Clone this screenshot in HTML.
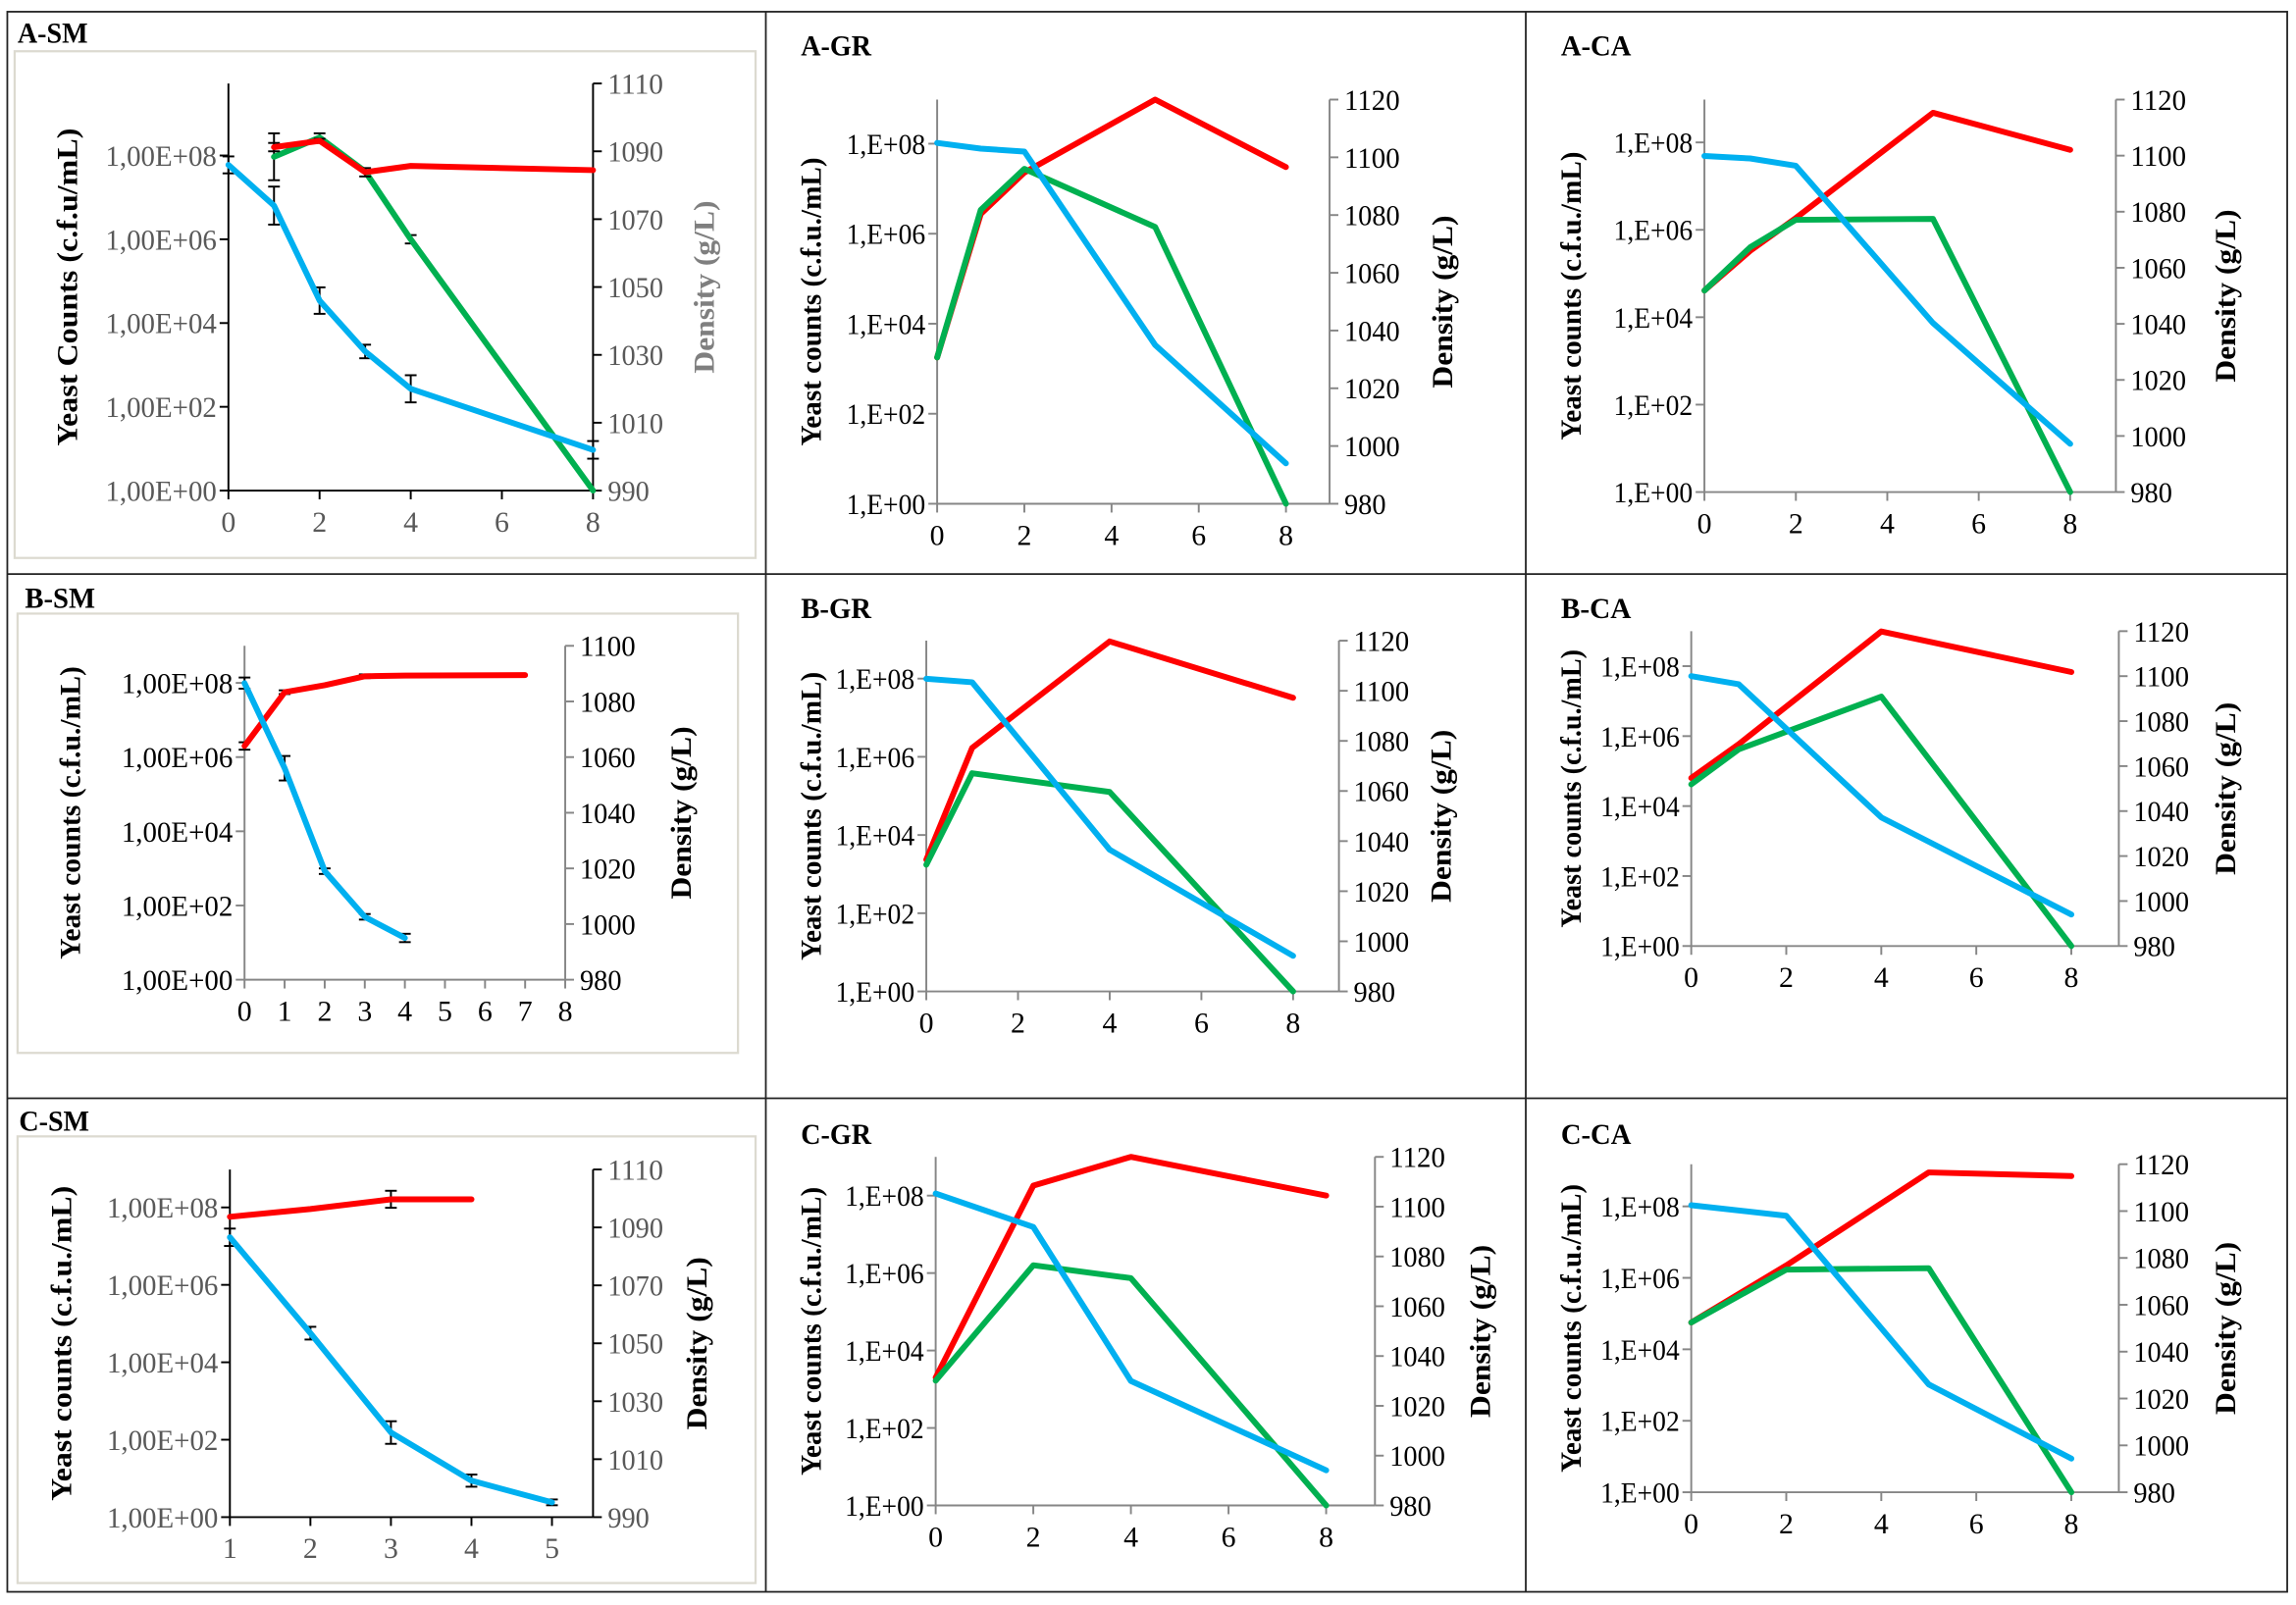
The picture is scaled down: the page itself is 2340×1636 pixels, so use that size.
<!DOCTYPE html>
<html><head><meta charset="utf-8"><style>
html,body{margin:0;padding:0;background:#fff}
svg{display:block}
</style></head><body>
<svg id="chart" xmlns="http://www.w3.org/2000/svg" width="2340" height="1636" viewBox="0 0 1568 1096" preserveAspectRatio="none">
<rect x="0" y="0" width="1568" height="1096" fill="#fff"/>
<g fill="none" stroke="#222" stroke-width="1.2">
<rect x="5" y="8" width="1557" height="1079"/>
<line x1="5" y1="392" x2="1562" y2="392"/>
<line x1="5" y1="750" x2="1562" y2="750"/>
<line x1="523" y1="8" x2="523" y2="1087"/>
<line x1="1042" y1="8" x2="1042" y2="1087"/>
</g>
<g id="panels"></g>
</svg>
<script>
// ---- data (days, log10 yeast counts for red/green, density g/L for blue) ----
const aSmRedDays=[1,2,3,4,8];      const aSmRed=[8.2,8.35,7.6,7.75,7.65];      const aSmRedErr=[0.1,0.05,0.1,0,0];
const aSmGreenDays=[1,2,3,4,8];    const aSmGreen=[7.97,8.43,7.62,6.0,0];     const aSmGreenErr=[0.56,0.1,0,0.1,0];
const aSmBlueDays=[0,1,2,3,4,8];   const aSmBlue=[1086,1074,1046,1031,1020,1002]; const aSmBlueErr=[2.5,5.6,3.9,2,4,2.6];

const aGrRedDays=[0,1,2,5,8];      const aGrRed=[3.25,6.44,7.36,8.98,7.48];
const aGrGreenDays=[0,1,2,5,8];    const aGrGreen=[3.25,6.53,7.44,6.15,0];
const aGrBlueDays=[0,1,2,5,8];     const aGrBlue=[1105,1103,1102,1035,994];

const aCaRedDays=[0,1,2,5,8];      const aCaRed=[4.61,5.52,6.27,8.68,7.83];
const aCaGreenDays=[0,1,2,5,8];    const aCaGreen=[4.61,5.6,6.23,6.25,0];
const aCaBlueDays=[0,1,2,5,8];     const aCaBlue=[1099.9,1099,1096.4,1040.3,997.2];

const bSmRedDays=[0,1,2,3,4,7];    const bSmRed=[6.3,7.75,7.94,8.18,8.2,8.21]; const bSmRedErr=[0.1,0.05,0,0.05,0,0];
const bSmBlueDays=[0,1,2,3,4];     const bSmBlue=[1086.6,1056,1019,1002.6,995]; const bSmBlueErr=[2,4.4,1,1,1.5];

const bGrRedDays=[0,1,4,8];        const bGrRed=[3.37,6.23,8.95,7.51];
const bGrGreenDays=[0,1,4,8];      const bGrGreen=[3.24,5.58,5.1,0];
const bGrBlueDays=[0,1,4,8];       const bGrBlue=[1104.8,1103.4,1036.6,994.2];

const bCaRedDays=[0,1,4,8];        const bCaRed=[4.8,5.77,8.99,7.83];
const bCaGreenDays=[0,1,4,8];      const bCaGreen=[4.62,5.62,7.13,0];
const bCaBlueDays=[0,1,4,8];       const bCaBlue=[1100,1096.4,1037.2,994];

const cSmRedDays=[1,2,3,4];        const cSmRed=[7.76,7.96,8.21,8.21];        const cSmRedErr=[0,0,0.22,0];
const cSmBlueDays=[1,2,3,4,5];     const cSmBlue=[1086.6,1053.5,1019.2,1002.6,995.1]; const cSmBlueErr=[3,2.2,3.9,2.1,1];

const cGrRedDays=[0,2,4,8];        const cGrRed=[3.3,8.26,9.0,8.0];
const cGrGreenDays=[0,2,4,8];      const cGrGreen=[3.22,6.2,5.87,0];
const cGrBlueDays=[0,2,4,8];       const cGrBlue=[1105.3,1091.8,1030,994.1];

const cCaRedDays=[0,2,5,8];        const cCaRed=[4.75,6.35,8.95,8.85];
const cCaGreenDays=[0,2,5,8];      const cCaGreen=[4.75,6.23,6.27,0];
const cCaBlueDays=[0,2,5,8];       const cCaBlue=[1102.5,1098,1026,994.4];

const logTicks=[0,2,4,6,8];
const densTicksA=[990,1010,1030,1050,1070,1090,1110];
const densTicksB=[980,1000,1020,1040,1060,1080,1100];
const densTicksC=[980,1000,1020,1040,1060,1080,1100,1120];
const xTicksEven=[0,2,4,6,8];
const xTicksAll=[0,1,2,3,4,5,6,7,8];
const xTicksC=[1,2,3,4,5];

const RED='#ff0000', GREEN='#00b050', BLUE='#00b0f0';
const NS='http://www.w3.org/2000/svg';

const panels=[
 {id:'a-sm',title:'A-SM',tx:12,ty:29,box:[10,35,516,381],xL:156,xR:405,yT:57,yB:335,xMin:0,xMax:8,xTicks:xTicksEven,logTop:9.72,dMin:990,dMax:1110,dTicks:densTicksA,
  sm:true,axisCol:'#000',labCol:'#595959',fmt:'long',yTitle:'Yeast Counts (c.f.u/mL)',lx:48,rx:483,rCol:'#7f7f7f',lLen:217,
  series:[[aSmGreenDays,aSmGreen,GREEN,'log',aSmGreenErr],[aSmRedDays,aSmRed,RED,'log',aSmRedErr],[aSmBlueDays,aSmBlue,BLUE,'dens',aSmBlueErr]]},
 {id:'a-gr',title:'A-GR',tx:547,ty:38,xL:640,xR:908,yT:68,yB:344,xMin:0,xMax:9,xTicks:xTicksEven,logTop:8.98,dMin:980,dMax:1120,dTicks:densTicksC,
  axisCol:'#868686',labCol:'#000',fmt:'short',yTitle:'Yeast counts (c.f.u./mL)',lx:556,rx:987,rCol:'#000',lLen:197,
  series:[[aGrRedDays,aGrRed,RED,'log'],[aGrGreenDays,aGrGreen,GREEN,'log'],[aGrBlueDays,aGrBlue,BLUE,'dens']]},
 {id:'a-ca',title:'A-CA',tx:1066,ty:38,xL:1164,xR:1445,yT:68,yB:336,xMin:0,xMax:9,xTicks:xTicksEven,logTop:8.98,dMin:980,dMax:1120,dTicks:densTicksC,
  axisCol:'#868686',labCol:'#000',fmt:'short',yTitle:'Yeast counts (c.f.u./mL)',lx:1075,rx:1522,rCol:'#000',lLen:197,
  series:[[aCaRedDays,aCaRed,RED,'log'],[aCaGreenDays,aCaGreen,GREEN,'log'],[aCaBlueDays,aCaBlue,BLUE,'dens']]},
 {id:'b-sm',title:'B-SM',tx:17,ty:415,box:[12,419,504,719],xL:167,xR:386,yT:441,yB:669,xMin:0,xMax:8,xTicks:xTicksAll,logTop:9.0,dMin:980,dMax:1100,dTicks:densTicksB,
  sm:true,axisCol:'#868686',labCol:'#000',fmt:'long',yTitle:'Yeast counts (c.f.u./mL)',lx:50,rx:467,rCol:'#000',lLen:200,
  series:[[bSmRedDays,bSmRed,RED,'log',bSmRedErr],[bSmBlueDays,bSmBlue,BLUE,'dens',bSmBlueErr]]},
 {id:'b-gr',title:'B-GR',tx:547,ty:422,xL:632.6,xR:914.4,yT:437.5,yB:677,xMin:0,xMax:9,xTicks:xTicksEven,logTop:8.97,dMin:980,dMax:1120,dTicks:densTicksC,
  axisCol:'#868686',labCol:'#000',fmt:'short',yTitle:'Yeast counts (c.f.u./mL)',lx:556,rx:986,rCol:'#000',lLen:197,
  series:[[bGrRedDays,bGrRed,RED,'log'],[bGrGreenDays,bGrGreen,GREEN,'log'],[bGrBlueDays,bGrBlue,BLUE,'dens']]},
 {id:'b-ca',title:'B-CA',tx:1066,ty:422,xL:1155,xR:1447,yT:431,yB:646,xMin:0,xMax:9,xTicks:xTicksEven,logTop:9.0,dMin:980,dMax:1120,dTicks:densTicksC,
  axisCol:'#868686',labCol:'#000',fmt:'short',yTitle:'Yeast counts (c.f.u./mL)',lx:1075,rx:1522,rCol:'#000',lLen:190,
  series:[[bCaRedDays,bCaRed,RED,'log'],[bCaGreenDays,bCaGreen,GREEN,'log'],[bCaBlueDays,bCaBlue,BLUE,'dens']]},
 {id:'c-sm',title:'C-SM',tx:13,ty:772,box:[12,776,516,1081],xL:157,xR:405,yT:798.6,yB:1036,xMin:1,xMax:5.51,xTicks:xTicksC,logTop:8.98,dMin:990,dMax:1110,dTicks:densTicksA,
  sm:true,axisCol:'#000',labCol:'#595959',fmt:'long',yTitle:'Yeast counts (c.f.u./mL)',lx:44,rx:478,rCol:'#000',lLen:215,
  series:[[cSmRedDays,cSmRed,RED,'log',cSmRedErr],[cSmBlueDays,cSmBlue,BLUE,'dens',cSmBlueErr]]},
 {id:'c-gr',title:'C-GR',tx:547,ty:781,xL:639,xR:939,yT:790,yB:1028,xMin:0,xMax:9,xTicks:xTicksEven,logTop:9.0,dMin:980,dMax:1120,dTicks:densTicksC,
  axisCol:'#868686',labCol:'#000',fmt:'short',yTitle:'Yeast counts (c.f.u./mL)',lx:556,rx:1013,rCol:'#000',lLen:197,
  series:[[cGrRedDays,cGrRed,RED,'log'],[cGrGreenDays,cGrGreen,GREEN,'log'],[cGrBlueDays,cGrBlue,BLUE,'dens']]},
 {id:'c-ca',title:'C-CA',tx:1066,ty:781,xL:1155,xR:1447,yT:795,yB:1019,xMin:0,xMax:9,xTicks:xTicksEven,logTop:9.18,dMin:980,dMax:1120,dTicks:densTicksC,
  axisCol:'#868686',labCol:'#000',fmt:'short',yTitle:'Yeast counts (c.f.u./mL)',lx:1075,rx:1522,rCol:'#000',lLen:197,
  series:[[cCaRedDays,cCaRed,RED,'log'],[cCaGreenDays,cCaGreen,GREEN,'log'],[cCaBlueDays,cCaBlue,BLUE,'dens']]}
];

function mk(tag,attrs,parent){const e=document.createElementNS(NS,tag);for(const k in attrs)e.setAttribute(k,attrs[k]);parent.appendChild(e);return e;}
function pad(n){return n<10?'0'+n:''+n;}

const root=document.getElementById('panels');
panels.forEach(p=>{
  const g=mk('g',{},root);
  
  
  const X=v=>p.xL+(v-p.xMin)/(p.xMax-p.xMin)*(p.xR-p.xL);
  const YL=v=>p.yB-v/p.logTop*(p.yB-p.yT);
  const YR=v=>p.yB-(v-p.dMin)/(p.dMax-p.dMin)*(p.yB-p.yT);
  if(p.box){
    const b=mk('rect',{x:p.box[0],y:p.box[1],width:p.box[2]-p.box[0],height:p.box[3]-p.box[1],fill:'none',stroke:'#dcdad0','stroke-width':1.5},g);
    
    
  }
  const t=mk('text',{x:p.tx,y:p.ty,'font-family':'"Liberation Serif",serif','font-weight':'bold','font-size':20,fill:'#000',textLength:48,lengthAdjust:'spacingAndGlyphs'},g);
  t.textContent=p.title;
  
  
  const ax=mk('g',{stroke:p.axisCol,'stroke-width':1.3,fill:'none'},g);
  
  
  mk('line',{x1:p.xL,y1:p.yT,x2:p.xL,y2:p.yB},ax);
  mk('line',{x1:p.xR,y1:p.yT,x2:p.xR,y2:p.yB},ax);
  mk('line',{x1:p.xL,y1:p.yB,x2:p.xR,y2:p.yB},ax);
  const lab={'font-family':'"Liberation Serif",serif','font-size':20,fill:p.labCol,lengthAdjust:'spacingAndGlyphs'};
  logTicks.forEach(v=>{
    const y=YL(v);
    mk('line',{x1:p.xL-6,y1:y,x2:p.xL,y2:y},ax);
    const tl=mk('text',Object.assign({x:p.xL-8,y:y+7,'text-anchor':'end',textLength:p.fmt==='long'?76:54},lab),g);
    tl.textContent=p.fmt==='long'?'1,00E+'+pad(v):'1,E+'+pad(v);
    
    
  });
  p.dTicks.forEach(v=>{
    const y=YR(v);
    mk('line',{x1:p.xR,y1:y,x2:p.xR+6,y2:y},ax);
    const tr=mk('text',Object.assign({x:p.xR+10,y:y+7,'text-anchor':'start',textLength:String(v).length*9.5},lab),g);
    tr.textContent=v;
    
    
  });
  p.xTicks.forEach(v=>{
    const x=X(v);
    mk('line',{x1:x,y1:p.yB,x2:x,y2:p.yB+6},ax);
    const tx=mk('text',Object.assign({x:x,y:p.yB+28,'text-anchor':'middle'},lab),g);
    tx.textContent=v;
    
    
  });
  const cy=(p.yT+p.yB)/2;
  const lt=mk('text',{x:p.lx,y:cy,transform:'rotate(-90 '+p.lx+' '+cy+')','text-anchor':'middle','dominant-baseline':'middle','font-family':'"Liberation Serif",serif','font-weight':'bold','font-size':20,fill:'#000',textLength:p.lLen,lengthAdjust:'spacingAndGlyphs'},g);
  lt.textContent=p.yTitle;
  
  
  const rt=mk('text',{x:p.rx,y:cy,transform:'rotate(-90 '+p.rx+' '+cy+')','text-anchor':'middle','dominant-baseline':'middle','font-family':'"Liberation Serif",serif','font-weight':'bold','font-size':20,fill:p.rCol,textLength:118,lengthAdjust:'spacingAndGlyphs'},g);
  rt.textContent='Density (g/L)';
  
  
  p.series.forEach(s=>{
    const [days,vals,col,axis,err]=s;
    const Y=axis==='log'?YL:YR;
    const pts=days.map((d,i)=>X(d).toFixed(1)+','+Y(vals[i]).toFixed(1)).join(' ');
    if(err){
      const eg=mk('g',{stroke:'#000','stroke-width':1.3},g);
      
      
      days.forEach((d,i)=>{
        if(!err[i])return;
        const x=X(d),y1=Y(vals[i]+err[i]),y2=Y(vals[i]-err[i]);
        mk('line',{x1:x,y1:y1,x2:x,y2:y2},eg);
        mk('line',{x1:x-4,y1:y1,x2:x+4,y2:y1},eg);
        mk('line',{x1:x-4,y1:y2,x2:x+4,y2:y2},eg);
      });
    }
    const pl=mk('polyline',{points:pts,fill:'none',stroke:col,'stroke-width':4,'stroke-linejoin':'round','stroke-linecap':'round'},g);
    
    
  });
});
</script>
</body></html>
